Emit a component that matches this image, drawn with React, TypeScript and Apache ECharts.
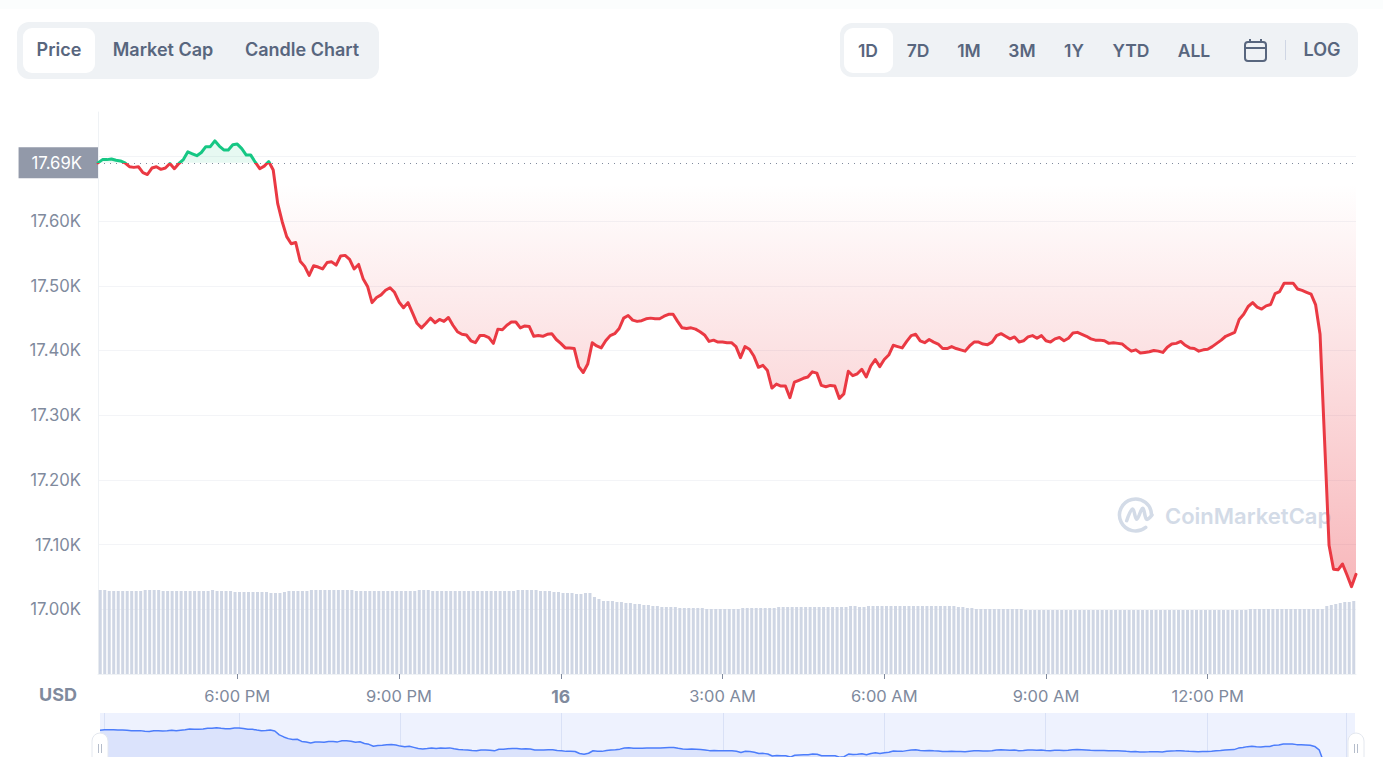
import React, { useEffect, useRef } from "react";
import * as echarts from "echarts";

const chartButtons = ["Price", "Market Cap", "Candle Chart"];
const rangeButtons = ["1D", "7D", "1M", "3M", "1Y", "YTD", "ALL"];
const baselinePrice = 17690;
const yAxisHidden = [16900, 17700];

const priceHead = [
  17690, 17695, 17695, 17696, 17694, 17693, 17690, 17684, 17683, 17684, 17675, 17672, 17682, 17684, 17680, 17682, 17689, 17681, 17689, 17695,
  17707, 17704, 17701, 17706, 17715, 17715, 17724, 17716, 17710, 17710, 17718, 17719, 17712, 17702, 17702, 17691, 17681, 17685, 17692, 17679,
];
const priceEvening = [
  17627, 17599, 17576, 17565, 17567, 17538, 17530, 17516, 17531, 17529, 17526, 17536, 17537, 17532, 17546, 17547, 17541, 17526, 17533, 17511,
  17499, 17474, 17482, 17486, 17493, 17497, 17490, 17475, 17466, 17474, 17458, 17442, 17435, 17442, 17450, 17443, 17448, 17445, 17451, 17439,
  17429, 17425, 17424, 17415, 17412, 17423, 17423, 17420, 17411, 17433, 17432, 17439, 17444, 17444, 17435, 17438, 17437, 17422, 17423, 17422,
  17425, 17426, 17417, 17411, 17404, 17404, 17403, 17375, 17366, 17379, 17412, 17407, 17404, 17415, 17423, 17426, 17434,
];
const priceNight = [
  17450, 17454, 17447, 17445, 17446, 17449, 17450, 17449, 17449, 17453, 17456, 17456, 17445, 17435, 17434, 17435, 17433, 17429, 17424, 17414,
  17416, 17413, 17413, 17412, 17412, 17406, 17389, 17406, 17402, 17391, 17374, 17377, 17369, 17342, 17348, 17345, 17345, 17327, 17351, 17354,
  17357, 17359, 17367, 17365, 17346, 17344, 17346, 17345, 17326, 17333, 17368, 17361, 17364, 17371, 17359, 17376, 17386, 17375, 17386, 17393,
  17408, 17406, 17404, 17414, 17423, 17425, 17415, 17412, 17417, 17413, 17410, 17403, 17403,
];
const priceMorning = [
  17406, 17403, 17401, 17399, 17407, 17413, 17413, 17410, 17409, 17413, 17423, 17426, 17422, 17418, 17421, 17413, 17415, 17421, 17423, 17419,
  17423, 17415, 17413, 17418, 17420, 17415, 17419, 17427, 17428, 17425, 17422, 17418, 17416, 17416, 17415, 17411, 17412, 17411, 17410, 17404,
  17399, 17401, 17396, 17397, 17398, 17400, 17399, 17397, 17405, 17410, 17411, 17414, 17408, 17404, 17403, 17399, 17401, 17402, 17406, 17411,
  17416, 17422, 17425, 17428, 17448, 17456, 17468, 17474, 17467, 17464, 17469, 17471, 17488, 17491, 17504, 17504, 17504, 17495, 17493, 17490,
  17487, 17471,
];
const priceDrop = [17425, 17262, 17099, 17062, 17061, 17070, 17053, 17035, 17054];
const prices = [...priceHead, ...priceEvening, ...priceNight, ...priceMorning, ...priceDrop];

const volumes = [
  84, 84, 83, 83, 83, 83, 83, 83, 83, 83, 84, 84, 84, 84, 83, 83, 83, 83, 83, 83,
  83, 83, 83, 83, 83, 84, 83, 83, 83, 83, 82, 82, 82, 82, 82, 82, 82, 82, 81, 81,
  81, 82, 83, 83, 83, 83, 83, 84, 84, 84, 84, 84, 84, 84, 84, 84, 84, 83, 83, 83,
  83, 83, 83, 83, 83, 83, 83, 83, 83, 83, 83, 84, 84, 84, 83, 83, 83, 83, 83, 83,
  83, 83, 83, 83, 83, 83, 83, 83, 83, 83, 83, 83, 83, 84, 84, 84, 84, 84, 83, 83,
  83, 82, 82, 81, 81, 81, 80, 80, 81, 81, 77, 75, 73, 73, 73, 72, 72, 71, 71, 70,
  70, 69, 69, 68, 68, 67, 67, 67, 67, 66, 66, 66, 66, 66, 66, 65, 65, 65, 65, 65,
  65, 65, 65, 66, 66, 66, 66, 66, 66, 66, 66, 67, 67, 67, 67, 67, 67, 67, 67, 67,
  67, 67, 67, 67, 67, 67, 67, 68, 68, 67, 67, 68, 68, 68, 68, 68, 68, 68, 68, 68,
  68, 68, 68, 68, 68, 68, 68, 68, 68, 68, 68, 67, 67, 66, 66, 65, 65, 65, 65, 65,
  65, 65, 65, 65, 65, 65, 64, 64, 64, 64, 64, 64, 64, 64, 64, 64, 64, 64, 64, 64,
  64, 64, 64, 64, 64, 64, 64, 64, 64, 64, 64, 64, 64, 64, 64, 64, 64, 64, 64, 64,
  64, 64, 64, 64, 64, 64, 64, 64, 64, 64, 64, 64, 64, 64, 64, 64, 65, 65, 65, 65,
  65, 65, 65, 65, 65, 65, 65, 65, 65, 65, 65, 65, 65, 68, 69, 70, 71, 72, 72, 73,
];

const times: string[] = prices.map((_, i) => {
  const m = 15 * 60 + 25 + i * 5;
  const h24 = Math.floor(m / 60) % 24;
  const h = h24 % 12 === 0 ? 12 : h24 % 12;
  return `${h}:${String(m % 60).padStart(2, "0")} ${h24 < 12 ? "AM" : "PM"}`;
});
const isMajor = (i: number) => i >= 31 && (i - 31) % 36 === 0;
const miniLines = [1, 31, 67, 103, 139, 175, 211, 247, 278];

const FONT = "Inter, 'Noto Sans', sans-serif";
const GREY = "#808a9d";
const SLATE = "#58667e";
const Y_MIN = 16900;
const Y_MAX = 17768.6;

function label(text: string, x: number, y: number, fill = SLATE, font = `600 18px ${FONT}`, z = 20, align = "center") {
  return { type: "text", z, silent: true, style: { text, x, y, fill, font, textAlign: align, textVerticalAlign: "middle" } };
}

export default function App() {
  const ref = useRef<HTMLDivElement>(null);
  useEffect(() => {
    const chart = echarts.init(ref.current!, undefined, { renderer: "svg" });
    const chartBtnX = [59, 163, 302];
    const rangeBtnX = [868, 918, 969, 1022, 1074, 1131, 1194];
    const handle = (x: number) => [
      { type: "rect", z: 30, shape: { x, y: 733, width: 16, height: 40, r: 8 }, style: { fill: "#fff", stroke: "#e4e8ef", lineWidth: 1 } },
      { type: "line", z: 31, shape: { x1: x + 6.5, y1: 744, x2: x + 6.5, y2: 753 }, style: { stroke: "#b5bdcb", lineWidth: 1 } },
      { type: "line", z: 31, shape: { x1: x + 9.5, y1: 744, x2: x + 9.5, y2: 753 }, style: { stroke: "#b5bdcb", lineWidth: 1 } },
    ];
    const wm = "#d3dbe7";
    const split = (Y_MAX - baselinePrice) / (Y_MAX - Y_MIN);
    const option: any = {
      animation: false,
      backgroundColor: "#fff",
      textStyle: { fontFamily: FONT },
      grid: [
        { left: 98, right: 27, top: 112, height: 562, containLabel: false },
        { left: 100, right: 28, top: 713, height: 44, show: true, backgroundColor: "#eef2fe", borderWidth: 0 },
      ],
      xAxis: [
        {
          type: "category", gridIndex: 0, data: times, boundaryGap: false,
          axisLine: { lineStyle: { color: "#eff2f5" } },
          axisTick: { interval: (i: number) => isMajor(i), length: 5, lineStyle: { color: GREY } },
          axisLabel: {
            interval: (i: number) => isMajor(i), margin: 13, color: GREY, fontSize: 16.5, fontFamily: FONT,
            formatter: (v: string) => (v === "12:00 AM" ? "{day|16}" : v),
            rich: { day: { fontWeight: 700, fontSize: 17.5, color: GREY, fontFamily: FONT } },
          },
          splitLine: { show: false },
        },
        { type: "category", gridIndex: 0, data: times.slice(0, 280), boundaryGap: true, show: false },
        {
          type: "category", gridIndex: 1, data: times, boundaryGap: false,
          axisLine: { show: false }, axisTick: { show: false }, axisLabel: { show: false },
          splitLine: { show: true, interval: (i: number) => miniLines.includes(i), lineStyle: { color: "#d9e1f6", width: 1 } },
        },
      ],
      yAxis: [
        {
          type: "value", gridIndex: 0, min: Y_MIN, max: Y_MAX, interval: 100,
          axisLine: { show: true, lineStyle: { color: "#eff2f5" } }, axisTick: { show: false },
          axisLabel: {
            color: GREY, fontSize: 16.7, fontFamily: FONT, margin: 17, showMaxLabel: false,
            formatter: (v: number) => (yAxisHidden.includes(v) ? "" : (v / 1000).toFixed(2) + "K"),
          },
          splitLine: { show: true, showMaxLine: false, lineStyle: { color: "#f3f4f7", width: 1 } },
        },
        { type: "value", gridIndex: 0, min: 0, max: 562, show: false, splitLine: { show: false } },
        { type: "value", gridIndex: 1, min: 17328, max: 17922, show: false, splitLine: { show: false } },
      ],
      series: [
        {
          type: "bar", xAxisIndex: 1, yAxisIndex: 1, data: volumes, barWidth: 3, silent: true,
          itemStyle: { color: "#cfd6e4" },
        },
        {
          type: "line", xAxisIndex: 0, yAxisIndex: 0, data: prices.map((v) => Math.min(v, baselinePrice)), symbol: "none",
          lineStyle: { width: 0 }, silent: true,
          areaStyle: {
            origin: baselinePrice,
            color: new echarts.graphic.LinearGradient(0, 0, 0, 1, [
              { offset: 0, color: "rgba(234,57,67,0)" },
              { offset: 0.05, color: "rgba(234,57,67,0)" },
              { offset: 1, color: "rgba(234,57,67,0.36)" },
            ]),
            opacity: 1,
          },
        },
        {
          type: "line", xAxisIndex: 0, yAxisIndex: 0, data: prices.map((v) => Math.max(v, baselinePrice)), symbol: "none",
          lineStyle: { width: 0 }, silent: true,
          areaStyle: { origin: baselinePrice, color: "rgba(22,199,132,0.1)", opacity: 1 },
        },
        {
          type: "line", xAxisIndex: 0, yAxisIndex: 0, data: prices, symbol: "none", silent: true, z: 5,
          lineStyle: {
            width: 3, join: "round", cap: "round",
            color: new echarts.graphic.LinearGradient(0, 112, 0, 674, [
              { offset: 0, color: "#16c784" },
              { offset: split, color: "#16c784" },
              { offset: split, color: "#ea3943" },
              { offset: 1, color: "#ea3943" },
            ], true),
          },
          markLine: {
            silent: true, symbol: "none", animation: false,
            lineStyle: { type: [1, 5], color: "#808a9d", width: 1 },
            label: {
              show: true, position: "start", distance: 0, formatter: "17.69K", color: "#fff", fontSize: 16.7, fontFamily: FONT,
              backgroundColor: "#9299a9", padding: [7, 16, 7, 13],
            },
            data: [{ yAxis: baselinePrice }],
          },
        },
        {
          type: "line", xAxisIndex: 2, yAxisIndex: 2, data: prices, symbol: "none", silent: true,
          lineStyle: { width: 1.5, color: "#4c7dfb" },
          itemStyle: { color: "#4c7dfb" },
          areaStyle: { color: "#dbe3fc", opacity: 1 },
        },
      ],
      graphic: {
        elements: [
          { type: "rect", z: 0, silent: true, shape: { x: 0, y: 0, width: 1383, height: 9 }, style: { fill: "#fbfdfd" } },
          { type: "rect", z: 10, silent: true, shape: { x: 17, y: 22, width: 362, height: 57, r: 12 }, style: { fill: "#eff2f5" } },
          { type: "rect", z: 11, silent: true, shape: { x: 23, y: 28, width: 72, height: 45, r: 9 }, style: { fill: "#fff" } },
          ...chartButtons.map((t, i) => label(t, chartBtnX[i], 49)),
          { type: "rect", z: 10, silent: true, shape: { x: 840, y: 23, width: 518, height: 54, r: 12 }, style: { fill: "#eff2f5" } },
          { type: "rect", z: 11, silent: true, shape: { x: 844, y: 28, width: 49, height: 45, r: 9 }, style: { fill: "#fff" } },
          ...rangeButtons.map((t, i) => label(t, rangeBtnX[i], 50, SLATE, `600 17.5px ${FONT}`)),
          label("LOG", 1322, 49),
          { type: "rect", z: 20, silent: true, shape: { x: 1245, y: 42, width: 21, height: 19, r: 3 }, style: { fill: "none", stroke: SLATE, lineWidth: 2 } },
          { type: "line", z: 20, silent: true, shape: { x1: 1245, y1: 48, x2: 1266, y2: 48 }, style: { stroke: SLATE, lineWidth: 2 } },
          { type: "line", z: 20, silent: true, shape: { x1: 1250, y1: 39, x2: 1250, y2: 43 }, style: { stroke: SLATE, lineWidth: 2 } },
          { type: "line", z: 20, silent: true, shape: { x1: 1261, y1: 39, x2: 1261, y2: 43 }, style: { stroke: SLATE, lineWidth: 2 } },
          { type: "line", z: 20, silent: true, shape: { x1: 1285.5, y1: 40, x2: 1285.5, y2: 60 }, style: { stroke: "#cfd6e4", lineWidth: 1 } },
          label("USD", 58, 694, GREY, `700 18px ${FONT}`),
          { type: "arc", z: 0, silent: true, shape: { cx: 1135.5, cy: 515, r: 16, startAngle: Math.PI * 0.28, endAngle: Math.PI * 2, clockwise: true }, style: { fill: "none", stroke: wm, lineWidth: 3.5, lineCap: "round" } },
          { type: "polyline", z: 0, silent: true, shape: { points: [[1126.7, 520.7], [1132.7, 509], [1136.7, 519.3], [1142.7, 508.3], [1146.7, 519.3], [1152, 515]], smooth: 0.4 }, style: { fill: "none", stroke: wm, lineWidth: 3.5, lineCap: "round" } },
          label("CoinMarketCap", 1165, 516, wm, `600 22px ${FONT}`, 0, "left"),
          ...handle(92),
          ...handle(1348),
        ],
      },
    };
    chart.setOption(option);
    return () => chart.dispose();
  }, []);
  return <div ref={ref} style={{ position: "fixed", left: 0, top: 0, width: 1383, height: 757 }} />;
}
